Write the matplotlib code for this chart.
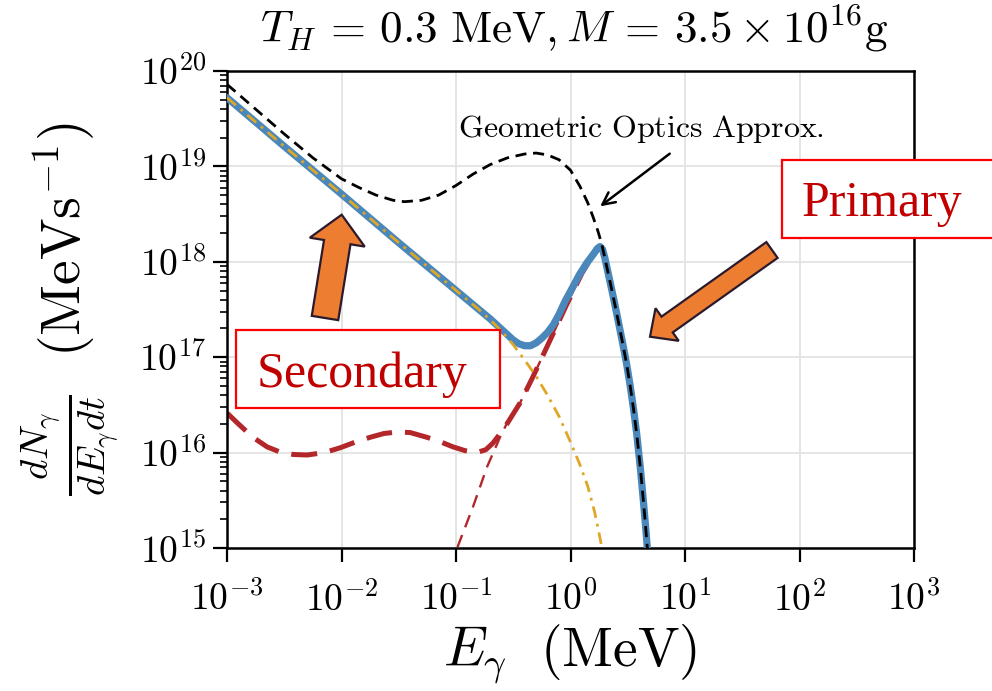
import numpy as np
import matplotlib
matplotlib.use("Agg")
import matplotlib.pyplot as plt
from matplotlib.patches import Rectangle, FancyArrow
from matplotlib.ticker import LogLocator, FuncFormatter, NullLocator

plt.rcParams['mathtext.fontset'] = 'cm'
plt.rcParams['font.family'] = ['DejaVu Serif']

# ---- data (log10 values) ----
# secondary (yellow dash-dot)
sec_log10_E = [-3.0, -2.5, -2.0, -1.5, -1.14, -0.9, -0.8, -0.7, -0.6, -0.5, -0.4, -0.3, -0.2, -0.1, 0.0, 0.08, 0.15, 0.21, 0.25, 0.275, 0.31]
sec_log10_N = [19.72, 19.21, 18.71, 18.2, 17.84, 17.6, 17.5, 17.39, 17.27, 17.13, 16.97, 16.8, 16.6, 16.38, 16.11, 15.88, 15.65, 15.38, 15.15, 15.0, 14.75]

# total (blue solid)
tot_log10_E = [-3.0, -2.5, -2.0, -1.5, -1.14, -0.9, -0.7, -0.6, -0.5, -0.45, -0.4, -0.35, -0.3, -0.25, -0.2, -0.15, -0.1, -0.05, 0.022, 0.08, 0.144, 0.2, 0.235, 0.258, 0.28, 0.30, 0.34, 0.374, 0.41, 0.45, 0.49, 0.52, 0.55, 0.578, 0.61, 0.636, 0.655, 0.671, 0.69]
tot_log10_N = [19.72, 19.21, 18.71, 18.2, 17.84, 17.6, 17.40, 17.29, 17.18, 17.14, 17.12, 17.12, 17.15, 17.2, 17.26, 17.34, 17.45, 17.58, 17.74, 17.87, 17.99, 18.08, 18.14, 18.16, 18.13, 18.04, 17.82, 17.63, 17.42, 17.18, 16.93, 16.71, 16.46, 16.2, 15.84, 15.5, 15.24, 15.0, 14.7]

# geometric optics approximation (black dashed)
geo_log10_E = [-3.0, -2.75, -2.5, -2.25, -2.0, -1.85, -1.7, -1.55, -1.45, -1.3, -1.15, -1.0, -0.85, -0.7, -0.55, -0.4, -0.3, -0.2, -0.1, 0.0, 0.083, 0.15, 0.197, 0.24, 0.272, 0.30, 0.34, 0.374, 0.41, 0.45, 0.49, 0.52, 0.55, 0.578, 0.61, 0.636, 0.655, 0.671, 0.69]
geo_log10_N = [19.86, 19.6, 19.34, 19.09, 18.87, 18.78, 18.70, 18.645, 18.63, 18.645, 18.70, 18.80, 18.92, 19.02, 19.09, 19.13, 19.14, 19.12, 19.07, 18.96, 18.79, 18.62, 18.47, 18.32, 18.19, 18.04, 17.82, 17.63, 17.42, 17.18, 16.93, 16.71, 16.46, 16.2, 15.84, 15.5, 15.24, 15.0, 14.7]

# primary total (thick red dashed)
pri_log10_E = [-3.0, -2.9, -2.773, -2.65, -2.537, -2.42, -2.3, -2.15, -2.013, -1.88, -1.751, -1.63, -1.515, -1.4, -1.253, -1.13, -1.026, -0.92, -0.82, -0.74, -0.677, -0.62, -0.55, -0.441, -0.33, -0.205, -0.1, -0.03, 0.1, 0.2, 0.258, 0.28, 0.30, 0.34, 0.374, 0.41, 0.45, 0.49, 0.52, 0.55, 0.578, 0.61, 0.636, 0.655, 0.671, 0.69]
pri_log10_N = [16.415, 16.3, 16.16, 16.06, 16.006, 15.98, 15.975, 16.0, 16.05, 16.11, 16.16, 16.2, 16.216, 16.21, 16.16, 16.11, 16.06, 16.02, 16.0, 16.03, 16.10, 16.19, 16.31, 16.52, 16.79, 17.11, 17.38, 17.56, 17.88, 18.08, 18.16, 18.13, 18.04, 17.82, 17.63, 17.42, 17.18, 16.93, 16.71, 16.46, 16.2, 15.84, 15.5, 15.24, 15.0, 14.7]

# primary high-energy component (thin red dashed)
pk_log10_E = [-1.05, -0.99, -0.852, -0.729, -0.616, -0.55, -0.441, -0.33, -0.205, -0.1, -0.03, 0.1, 0.2, 0.258, 0.28, 0.30, 0.34, 0.374, 0.41, 0.45, 0.49, 0.52, 0.55, 0.578, 0.61, 0.636, 0.655, 0.671, 0.69]
pk_log10_N = [14.8, 15.0, 15.43, 15.85, 16.16, 16.32, 16.52, 16.79, 17.11, 17.38, 17.56, 17.88, 18.08, 18.16, 18.13, 18.04, 17.82, 17.63, 17.42, 17.18, 16.93, 16.71, 16.46, 16.2, 15.84, 15.5, 15.24, 15.0, 14.7]

x_ticks = [1e-3, 1e-2, 1e-1, 1e0, 1e1, 1e2, 1e3]


def p10(a):
    return np.power(10.0, np.asarray(a))


W, H = 992, 691
fig = plt.figure(figsize=(W / 100, H / 100), dpi=100)
ax = fig.add_axes([227 / W, 1 - 548 / H, (914 - 227) / W, (548 - 71) / H])
ax.set_xscale('log')
ax.set_yscale('log')
ax.set_xlim(1e-3, 1e3)
ax.set_ylim(1e15, 1e20)

red = '#B3262A'
ax.plot(p10(pri_log10_E), p10(pri_log10_N), color=red, lw=3.6, dashes=(5.2, 2.6), zorder=2)
ax.plot(p10(pk_log10_E), p10(pk_log10_N), color=red, lw=1.7, dashes=(5.5, 3.5), zorder=2)
ax.plot(p10(tot_log10_E), p10(tot_log10_N), color='#4A87BA', lw=5.2,
        solid_capstyle='round', solid_joinstyle='round', zorder=3)
ax.plot(p10(sec_log10_E), p10(sec_log10_N), color='#DFA725', lw=2.0, dashes=(4.2, 2.2, 1.0, 2.2), zorder=4)
ax.plot(p10(geo_log10_E), p10(geo_log10_N), color='black', lw=2.0, dashes=(4.0, 2.4), zorder=5)

ax.set_xticks(x_ticks)
ax.xaxis.set_minor_locator(NullLocator())
ax.yaxis.set_major_locator(LogLocator(base=10, numticks=10))
ax.yaxis.set_minor_locator(LogLocator(base=10, subs=np.arange(2, 10), numticks=20))
fmt = FuncFormatter(lambda v, p: r'$10^{%d}$' % int(round(np.log10(v))))
ax.xaxis.set_major_formatter(fmt)
ax.yaxis.set_major_formatter(fmt)
ax.tick_params(axis='both', which='major', labelsize=27, width=1.6, length=10, direction='out')
ax.tick_params(axis='y', which='minor', width=1.2, length=5, direction='out')
ax.tick_params(axis='x', which='major', pad=14)
ax.tick_params(axis='y', which='major', pad=5)
ax.tick_params(top=False, right=False, which='both')
for s in ax.spines.values():
    s.set_linewidth(1.8)
    s.set_color('black')
ax.grid(True, which='major', color='#e3e3e3', lw=1.3)
ax.set_axisbelow(True)

ax.set_xlabel(r'$E_\gamma\ \ (\mathrm{MeV})$', fontsize=40, va='center')
ax.xaxis.set_label_coords(0.5, (548 - 655) / 477)
ax.set_ylabel(r'$\frac{dN_\gamma}{dE_\gamma dt}\ \ (\mathrm{MeVs}^{-1})$', fontsize=40, va='center')
ax.yaxis.set_label_coords((70 - 227) / 687, 0.5)

fig.text(574 / W, 1 - 42 / H,
         r'$T_H\,=\,0.3\ \mathrm{MeV}, M\,=\,3.5\times 10^{16}\mathrm{g}$',
         fontsize=32.5, ha='center', va='baseline')

# annotation: geometric optics
ax.text(p10(-0.983), p10(19.311), r'$\mathrm{Geometric\ Optics\ Approx.}$', fontsize=23,
        ha='left', va='baseline', zorder=6)
ax.annotate('', xy=(p10(0.240), p10(18.564)), xytext=(p10(0.886), p10(19.151)),
            arrowprops=dict(arrowstyle='->', color='black', lw=1.8, mutation_scale=22), zorder=6)

# boxes and block arrows in figure inches (pixels / 100)
tr = fig.dpi_scale_trans


def inch(px, py):
    return px / 100.0, (H - py) / 100.0


box_red = '#FF0000'
txt_red = '#C00000'
x0, y0 = inch(236, 408)
fig.add_artist(Rectangle((x0, y0), 2.64, 0.78, transform=tr, facecolor='white',
                         edgecolor=box_red, lw=1.6, zorder=10))
tx, ty = inch(257, 387)
fig.text(tx, ty, 'Secondary', transform=tr, fontsize=36, color=txt_red,
         family='Liberation Serif', ha='left', va='baseline', zorder=11)

x0, y0 = inch(782, 238)
fig.add_artist(Rectangle((x0, y0), 2.4, 0.78, transform=tr, facecolor='white',
                         edgecolor=box_red, lw=1.6, zorder=10))
tx, ty = inch(802, 216)
fig.text(tx, ty, 'Primary', transform=tr, fontsize=36, color=txt_red,
         family='Liberation Serif', ha='left', va='baseline', zorder=11)

orange = '#ED7D31'
edge = '#2B1A2C'
sx, sy = inch(325, 318)
fig.add_artist(FancyArrow(sx, sy, 0.167, 1.033, width=0.268, head_width=0.556, head_length=0.278,
                          length_includes_head=True, transform=tr, facecolor=orange,
                          edgecolor=edge, lw=1.6, zorder=9))
px_, py_ = inch(772, 250)
fig.add_artist(FancyArrow(px_, py_, -1.22, -0.867, width=0.194, head_width=0.40, head_length=0.21,
                          length_includes_head=True, transform=tr, facecolor=orange,
                          edgecolor=edge, lw=1.6, zorder=9))

fig.savefig('out.png', dpi=100, facecolor='white')
